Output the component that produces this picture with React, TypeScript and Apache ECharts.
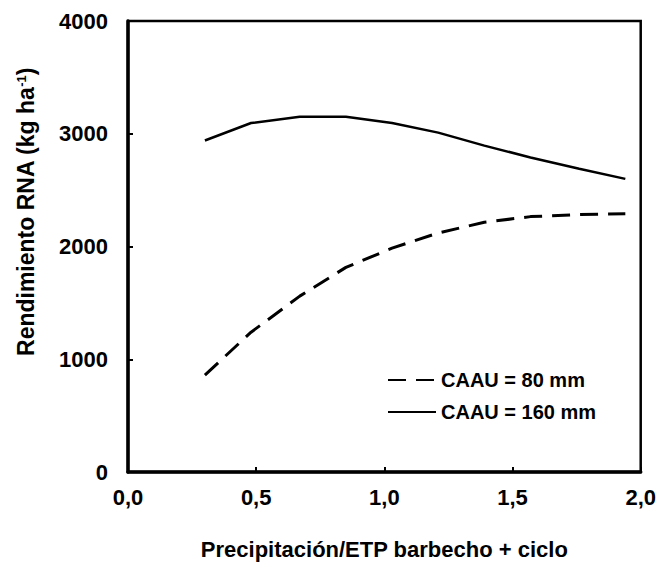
import React, { useEffect, useRef } from "react";
import * as echarts from "echarts";

const xValues = [0.3, 0.48, 0.67, 0.85, 1.03, 1.21, 1.39, 1.57, 1.76, 1.94];
const caau80 = [860, 1240, 1560, 1815, 1985, 2120, 2215, 2265, 2283, 2290];
const caau160 = [2940, 3095, 3150, 3150, 3095, 3010, 2895, 2790, 2690, 2600];
const seriesNames = ["CAAU = 80 mm", "CAAU = 160 mm"];
const xTitle = "Precipitación/ETP barbecho + ciclo";
const yTitle = "Rendimiento RNA (kg ha{sup|-1})";

const FONT = "'Liberation Sans', Arial, sans-serif";

export default function App() {
  const ref = useRef<HTMLDivElement>(null);
  useEffect(() => {
    document.body.style.margin = "0";
    if (!ref.current) return;
    const chart = echarts.init(ref.current, null, { renderer: "svg" });
    chart.setOption({
      animation: false,
      backgroundColor: "#ffffff",
      textStyle: { fontFamily: FONT },
      grid: {
        left: 128,
        right: 16,
        top: 21,
        bottom: 91,
        show: true,
        borderColor: "#000",
        borderWidth: 2.5,
        backgroundColor: "transparent",
      },
      legend: {
        left: 387,
        top: 370,
        orient: "vertical",
        padding: 0,
        itemWidth: 48,
        itemHeight: 20,
        itemGap: 12,
        itemStyle: { opacity: 0 },
        textStyle: { fontFamily: FONT, fontWeight: "bold", fontSize: 20, color: "#000" },
        data: seriesNames,
      },
      xAxis: {
        type: "value",
        min: 0,
        max: 2,
        interval: 0.5,
        name: xTitle,
        nameLocation: "middle",
        nameGap: 66,
        nameTextStyle: { fontFamily: FONT, fontWeight: "bold", fontSize: 22, color: "#000" },
        axisLine: { lineStyle: { color: "#000", width: 3.5 } },
        axisTick: { inside: true, length: 5, lineStyle: { color: "#000", width: 2 } },
        axisLabel: {
          margin: 14,
          fontFamily: FONT,
          fontWeight: "bold",
          fontSize: 22,
          color: "#000",
          formatter: (v: number) => v.toFixed(1).replace(".", ","),
        },
        splitLine: { show: false },
      },
      yAxis: {
        type: "value",
        min: 0,
        max: 4000,
        interval: 1000,
        axisLine: { show: true, lineStyle: { color: "#000", width: 3.5 } },
        axisTick: { show: true, inside: true, length: 5, lineStyle: { color: "#000", width: 2 } },
        axisLabel: {
          margin: 20,
          fontFamily: FONT,
          fontWeight: "bold",
          fontSize: 22,
          color: "#000",
          formatter: (v: number) => String(v),
        },
        splitLine: { show: false },
      },
      graphic: [
        {
          type: "text",
          x: 26,
          y: 212,
          rotation: Math.PI / 2,
          style: {
            text: yTitle,
            fontFamily: FONT,
            fontWeight: "bold",
            fontSize: 23,
            fill: "#000",
            align: "center",
            verticalAlign: "middle",
            rich: {
              sup: {
                fontFamily: FONT,
                fontWeight: "bold",
                fontSize: 13,
                fill: "#000",
                verticalAlign: "top",
                padding: [0, 0, 9, 0],
              },
            },
          },
        },
      ],
      series: [
        {
          name: seriesNames[0],
          type: "line",
          data: xValues.map((x, i) => [x, caau80[i]]),
          showSymbol: false,
          symbol: "none",
          lineStyle: { color: "#000", width: 3, type: [18, 10] },
          itemStyle: { color: "#000" },
        },
        {
          name: seriesNames[1],
          type: "line",
          data: xValues.map((x, i) => [x, caau160[i]]),
          showSymbol: false,
          symbol: "none",
          lineStyle: { color: "#000", width: 2.5 },
          itemStyle: { color: "#000" },
        },
      ],
    });
    return () => chart.dispose();
  }, []);
  return (
    <div
      ref={ref}
      style={{ position: "absolute", left: 0, top: 0, width: 659, height: 565 }}
    />
  );
}
